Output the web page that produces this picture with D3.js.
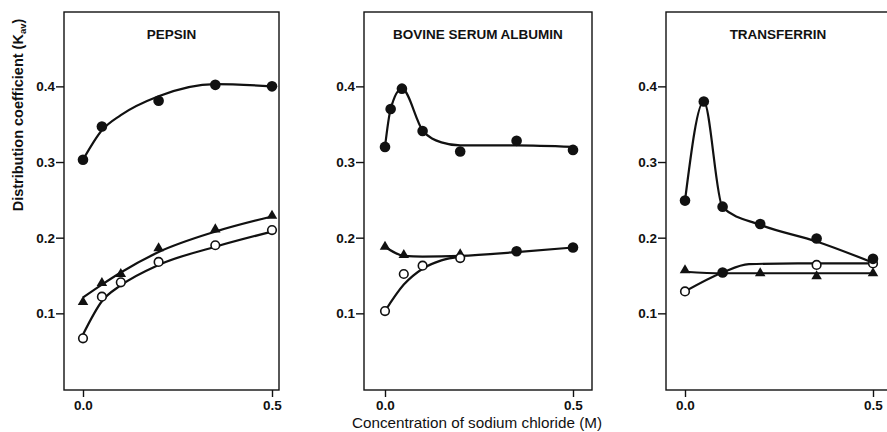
<!DOCTYPE html>
<html>
<head>
<meta charset="utf-8">
<script src="https://cdn.jsdelivr.net/npm/d3@7"></script>
<style>
  html, body { margin: 0; padding: 0; background: #fff; }
  svg { display: block; }
  text { font-family: "Liberation Sans", Arial, Helvetica, sans-serif; fill: #111; }
</style>
</head>
<body>
<svg id="chart" width="887" height="432"></svg>
<script>
// ---------------- DATA ----------------
const xTicks = [0, 0.5];
const yTicks = [0.1, 0.2, 0.3, 0.4];
const panelTitles = ["PEPSIN", "BOVINE SERUM ALBUMIN", "TRANSFERRIN"];
const yLabel = "Distribution coefficient (K";
const yLabelSub = "av";
const xLabel = "Concentration of sodium chloride (M)";

// PEPSIN
const pepsinFilled = [[0, 0.303], [0.05, 0.347], [0.2, 0.381], [0.35, 0.402], [0.5, 0.400]];
const pepsinTri    = [[0, 0.115], [0.05, 0.140], [0.1, 0.152], [0.2, 0.186], [0.35, 0.211], [0.5, 0.229]];
const pepsinOpen   = [[0, 0.067], [0.05, 0.122], [0.1, 0.141], [0.2, 0.168], [0.35, 0.190], [0.5, 0.210]];
const pepsinFilledFit = [[0, 0.303], [0.05, 0.342], [0.1, 0.362], [0.2, 0.387], [0.35, 0.403], [0.5, 0.400]];
const pepsinTriFit    = [[0, 0.121], [0.05, 0.138], [0.1, 0.154], [0.2, 0.181], [0.35, 0.208], [0.5, 0.228]];
const pepsinOpenFit   = [[0, 0.072], [0.05, 0.116], [0.1, 0.137], [0.2, 0.164], [0.35, 0.188], [0.5, 0.208]];

// BOVINE SERUM ALBUMIN
const bsaFilled = [[0, 0.320], [0.015, 0.370], [0.045, 0.397], [0.1, 0.341], [0.2, 0.314], [0.35, 0.328], [0.5, 0.316]];
const bsaTri    = [[0, 0.188], [0.05, 0.177], [0.2, 0.178]];
const bsaOpen   = [[0, 0.103], [0.05, 0.152], [0.1, 0.163], [0.2, 0.173]];
const bsaMerged = [[0.35, 0.182], [0.5, 0.187]];
const bsaFilledFit = [[0, 0.320], [0.015, 0.370], [0.045, 0.397], [0.1, 0.342], [0.15, 0.326], [0.2, 0.322], [0.35, 0.322], [0.5, 0.320]];
const bsaTriFit    = [[0, 0.188], [0.05, 0.176], [0.1, 0.175], [0.2, 0.176], [0.35, 0.181], [0.5, 0.187]];
const bsaOpenFit   = [[0, 0.103], [0.05, 0.138], [0.1, 0.159], [0.15, 0.170], [0.2, 0.175]];

// TRANSFERRIN
const tfFilled = [[0, 0.249], [0.05, 0.380], [0.1, 0.241], [0.2, 0.218], [0.35, 0.199], [0.5, 0.172]];
const tfTri    = [[0, 0.157], [0.2, 0.153], [0.35, 0.149], [0.5, 0.153]];
const tfOpen   = [[0, 0.129], [0.35, 0.164], [0.5, 0.166]];
const tfMerged = [[0.1, 0.154]];
const tfFilledFit = [[0, 0.249], [0.05, 0.380], [0.1, 0.240], [0.2, 0.217], [0.35, 0.195], [0.5, 0.167]];
const tfTriFit    = [[0, 0.155], [0.1, 0.153], [0.5, 0.153]];
const tfOpenFit   = [[0, 0.129], [0.1, 0.154], [0.17, 0.165], [0.3, 0.166], [0.5, 0.166]];

// ---------------- LAYOUT ----------------
const frameTop = 12, frameBottom = 390;
const panels = [
  { title: panelTitles[0], left: 64,  right: 279, x0: 83,  x1: 272,
    filled: pepsinFilled, tri: pepsinTri, open: pepsinOpen, merged: [],
    fits: [pepsinFilledFit, pepsinTriFit, pepsinOpenFit] },
  { title: panelTitles[1], left: 364, right: 592, x0: 385, x1: 573,
    filled: bsaFilled, tri: bsaTri, open: bsaOpen, merged: bsaMerged,
    fits: [bsaFilledFit, bsaTriFit, bsaOpenFit] },
  { title: panelTitles[2], left: 666, right: 890, x0: 685, x1: 873,
    filled: tfFilled, tri: tfTri, open: tfOpen, merged: tfMerged,
    fits: [tfFilledFit, tfTriFit, tfOpenFit] }
];

const svg = d3.select("#chart");
const y = d3.scaleLinear().domain([0, 0.5]).range([389, 10.7]);

panels.forEach(p => {
  const x = d3.scaleLinear().domain([0, 0.5]).range([p.x0, p.x1]);
  const g = svg.append("g");

  // frame
  g.append("rect")
    .attr("x", p.left).attr("y", frameTop)
    .attr("width", p.right - p.left).attr("height", frameBottom - frameTop)
    .attr("fill", "none").attr("stroke", "#111").attr("stroke-width", 1.4);

  // y axis
  const ya = g.append("g").attr("transform", `translate(${p.left},0)`)
    .call(d3.axisLeft(y).tickValues(yTicks).tickSize(8).tickPadding(1).tickFormat(d3.format(".1f")));
  ya.select(".domain").remove();
  ya.selectAll(".tick line").attr("stroke", "#111").attr("stroke-width", 1.4);
  ya.selectAll(".tick text").attr("font-size", 13.5).attr("font-weight", "bold")
    .attr("font-family", "Liberation Sans, Arial, sans-serif").attr("fill", "#111");

  // x axis
  const xa = g.append("g").attr("transform", `translate(0,${frameBottom})`)
    .call(d3.axisBottom(x).tickValues(xTicks).tickSize(7).tickPadding(3).tickFormat(d3.format(".1f")));
  xa.select(".domain").remove();
  xa.selectAll(".tick line").attr("stroke", "#111").attr("stroke-width", 1.4);
  xa.selectAll(".tick text").attr("font-size", 13.5).attr("font-weight", "bold")
    .attr("font-family", "Liberation Sans, Arial, sans-serif").attr("fill", "#111");

  // title
  g.append("text")
    .attr("x", (p.left + p.right) / 2).attr("y", 39)
    .attr("text-anchor", "middle")
    .attr("font-size", 13.5).attr("font-weight", "bold")
    .text(p.title);

  // clip
  const clipId = "clip" + p.left;
  svg.append("clipPath").attr("id", clipId).append("rect")
    .attr("x", p.left).attr("y", frameTop).attr("width", p.right - p.left).attr("height", frameBottom - frameTop);
  const plot = g.append("g").attr("clip-path", `url(#${clipId})`);

  // fitted curves
  const line = d3.line().x(d => x(d[0])).y(d => y(d[1])).curve(d3.curveMonotoneX);
  p.fits.forEach(f => {
    plot.append("path").attr("d", line(f))
      .attr("fill", "none").attr("stroke", "#111").attr("stroke-width", 2.2)
      .attr("stroke-linejoin", "round");
  });

  // triangles
  const tri = d3.symbol().type(d3.symbolTriangle).size(48);
  plot.selectAll(".tri").data(p.tri).enter().append("path")
    .attr("d", tri)
    .attr("transform", d => `translate(${x(d[0])},${y(d[1])})`)
    .attr("fill", "#111");

  // open circles
  plot.selectAll(".open").data(p.open).enter().append("circle")
    .attr("cx", d => x(d[0])).attr("cy", d => y(d[1])).attr("r", 4.3)
    .attr("fill", "#fff").attr("stroke", "#111").attr("stroke-width", 1.6);

  // filled circles
  plot.selectAll(".filled").data(p.filled.concat(p.merged)).enter().append("circle")
    .attr("cx", d => x(d[0])).attr("cy", d => y(d[1])).attr("r", 5.3)
    .attr("fill", "#111");
});

// y-axis label
const yl = svg.append("text")
  .attr("transform", "translate(23,115) rotate(-90)")
  .attr("text-anchor", "middle")
  .attr("font-size", 14.5)
  .attr("font-weight", "bold");
yl.append("tspan").text(yLabel);
yl.append("tspan").attr("font-size", 9.5).attr("dy", 3).text(yLabelSub);
yl.append("tspan").attr("dy", -3).text(")");

// x-axis label
svg.append("text")
  .attr("x", 477).attr("y", 428)
  .attr("text-anchor", "middle")
  .attr("font-size", 14.5)
  .attr("textLength", 250)
  .attr("lengthAdjust", "spacingAndGlyphs")
  .text(xLabel);
</script>
</body>
</html>
